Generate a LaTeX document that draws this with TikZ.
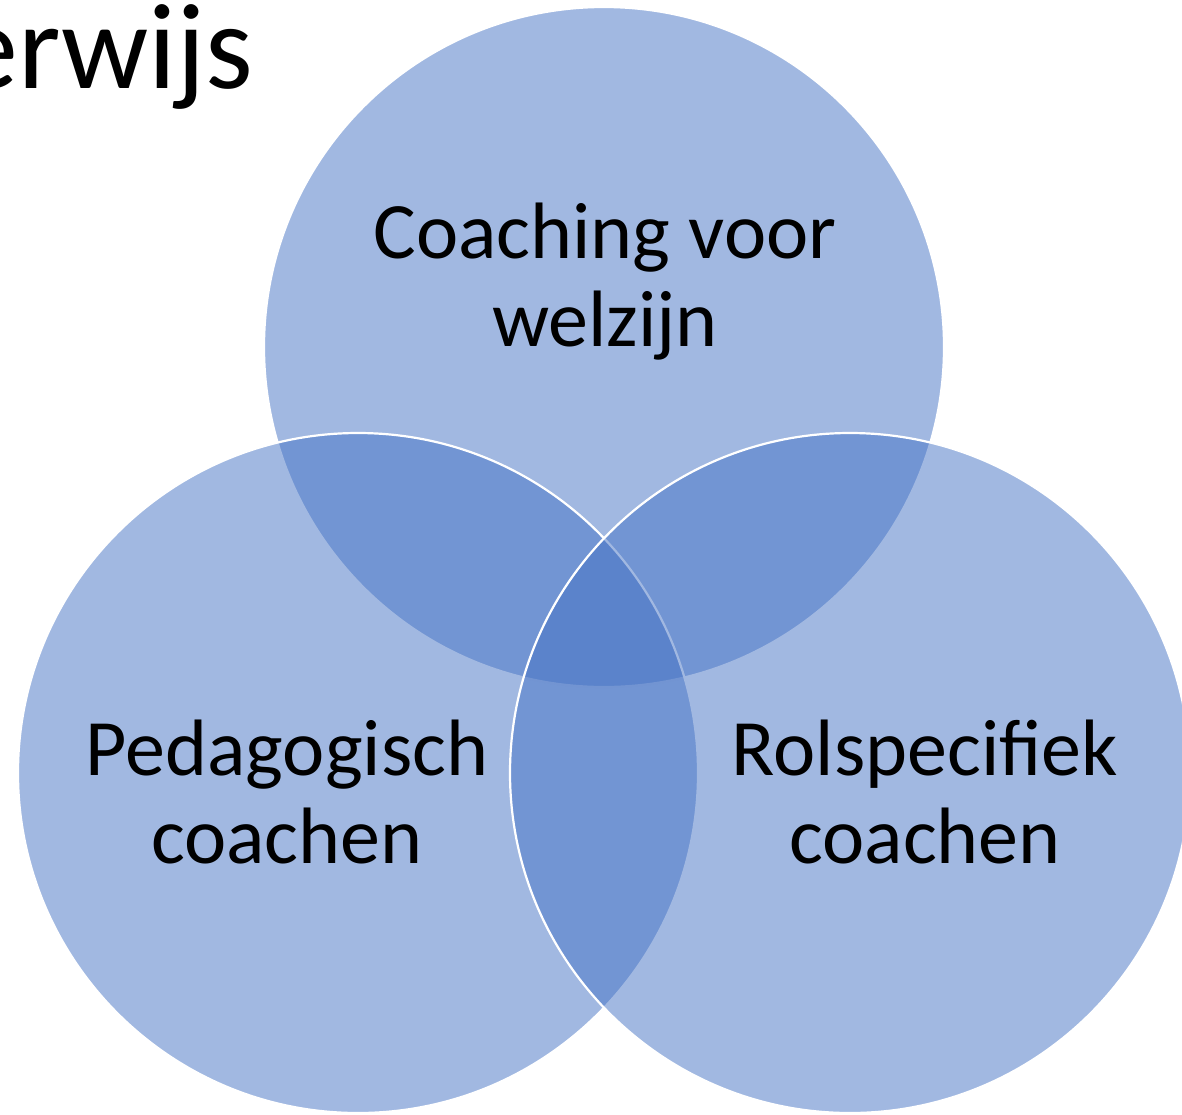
\documentclass[tikz,border=0pt]{standalone}
\usepackage{fontspec}
\setmainfont{Carlito}
\usepackage{tikz}
\usetikzlibrary{positioning}
\definecolor{vennblue}{HTML}{4472C4}

\begin{document}
\begin{tikzpicture}[
			x = 0.5pt, y = -0.5pt,
			every node/.style = {font = \fontsize{40}{44}\selectfont, align = center, inner sep = 0},
			venn/.style = {fill = vennblue, fill opacity = 0.5, draw = white, line width = 1.1pt}]

			\useasboundingbox (0,0) rectangle (1182,1114);
			\clip (0,0) rectangle (1182,1114);

			\node[anchor = base east, font = \fontsize{61}{72}\selectfont] (title) at (254,88) {erwijs};

			\coordinate (ctop) at (604,347);
			\coordinate (cleft) at (358,773);
			\coordinate (cright) at (850,773);

			\fill[venn] (ctop) circle[radius = 340];
			\draw[venn] (cleft) circle[radius = 340];
			\draw[venn] (cright) circle[radius = 340];

			\node[anchor = base] (welzijn) at (605,346) {Coaching voor\\welzijn};
			\node[anchor = base] (pedagogisch) at (287,863) {Pedagogisch\\coachen};
			\node[anchor = base] (rolspecifiek) at (925,863) {Rolspecifiek\\coachen};

		\end{tikzpicture}
\end{document}
